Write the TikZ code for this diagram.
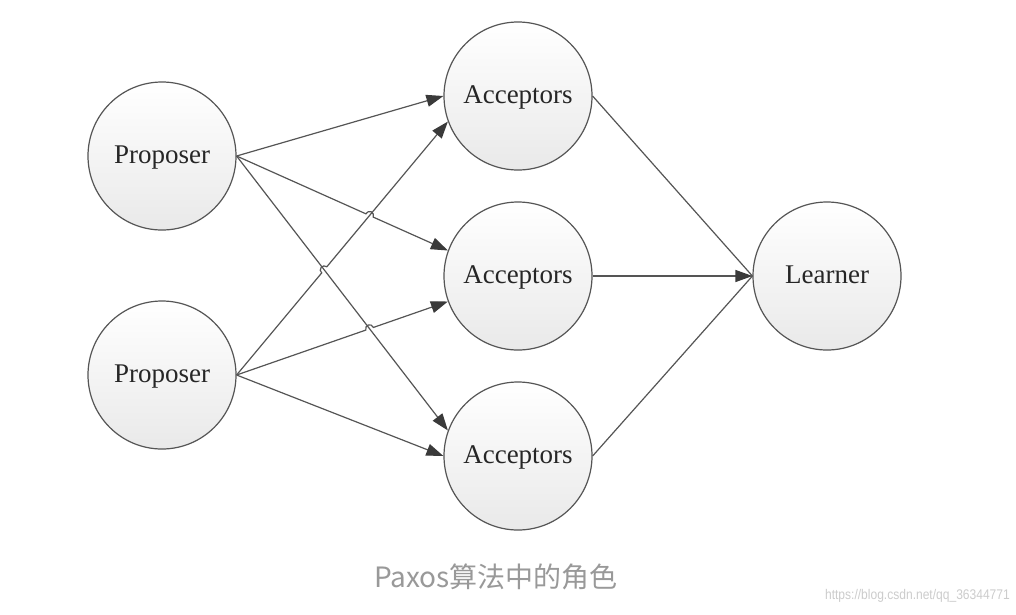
\documentclass[tikz,border=0pt]{standalone}
\usepackage{fontspec}
\setmainfont{Liberation Serif}
\newfontfamily\cjk{Noto Sans CJK SC}
\newfontfamily\wmfont{Liberation Sans}
\usetikzlibrary{arrows.meta,calc,intersections}
\definecolor{edgegray}{HTML}{555555}
\definecolor{tipgray}{HTML}{3A3A3A}
\definecolor{capgray}{HTML}{999999}
\definecolor{wmgray}{HTML}{CCCCCC}
\definecolor{fillgray}{HTML}{E9E9E9}
\begin{document}
\begin{tikzpicture}[x=1pt,y=-1pt,
  role/.style={circle, draw=edgegray, line width=1.2pt, inner sep=0pt,
    minimum size=148pt, top color=white, bottom color=fillgray,
    font=\fontsize{27}{30}\selectfont, text=black!85,
    text height=18pt, text depth=4pt},
  conn/.style={draw=edgegray, line width=1.2pt,
    -{Triangle[length=17pt,width=12pt,color=tipgray,fill=tipgray]}},
  plain/.style={draw=edgegray, line width=1.2pt}]
\useasboundingbox (0,0) rectangle (1016,614);
\fill[white] (0,0) rectangle (1016,614);

\node[role] (p1) at (162,156) {Proposer};
\node[role] (p2) at (162,375) {Proposer};
\node[role] (a1) at (518,96) {Acceptors};
\node[role] (a2) at (518,276) {Acceptors};
\node[role] (a3) at (518,456) {Acceptors};
\node[role] (l) at (827,276) {Learner};

% helper paths for crossings
\path[name path=pa2] (p1.east) -- (a2.160);
\path[name path=pa3] (p1.east) -- (a3.160);
\path[name path=qa1] (p2.east) -- (a1.200);
\path[name path=qa2] (p2.east) -- (a2.200);
\path[name intersections={of=pa2 and qa1, by=x1}];
\path[name intersections={of=pa3 and qa1, by=x2}];
\path[name intersections={of=pa3 and qa2, by=x3}];

% Proposer 1
\draw[conn] (p1.east) -- (a1.west);
\draw[conn] let \p1=($(a2.160)-(p1.east)$), \n1={atan2(\y1,\x1)} in
  (p1.east) -- ($(x1)!4pt!(p1.east)$)
  arc[start angle=\n1+180, end angle=\n1, radius=4pt] -- (a2.160);
\draw[conn] (p1.east) -- (a3.160);

% Proposer 2
\draw[conn] let \p1=($(a1.200)-(p2.east)$), \n1={atan2(\y1,\x1)} in
  (p2.east) -- ($(x2)!4pt!(p2.east)$)
  arc[start angle=\n1+180, end angle=\n1, radius=4pt] -- (a1.200);
\draw[conn] let \p1=($(a2.200)-(p2.east)$), \n1={atan2(\y1,\x1)} in
  (p2.east) -- ($(x3)!4pt!(p2.east)$)
  arc[start angle=\n1+180, end angle=\n1, radius=4pt] -- (a2.200);
\draw[conn] (p2.east) -- (a3.west);

% Acceptors to Learner
\draw[plain] (a1.east) -- (l.west);
\draw[plain] (a3.east) -- (l.west);
\draw[conn] (a2.east) -- (l.west);

\node[font=\cjk\fontsize{28}{32}\selectfont, text=capgray] (cap) at (496,577) {Paxos算法中的角色};
\node[font=\wmfont\fontsize{14}{16}\selectfont, text=wmgray, anchor=east, inner sep=0pt, xscale=0.86] (wm) at (1010,596) {https://blog.csdn.net/qq\_36344771};
\end{tikzpicture}
\end{document}
